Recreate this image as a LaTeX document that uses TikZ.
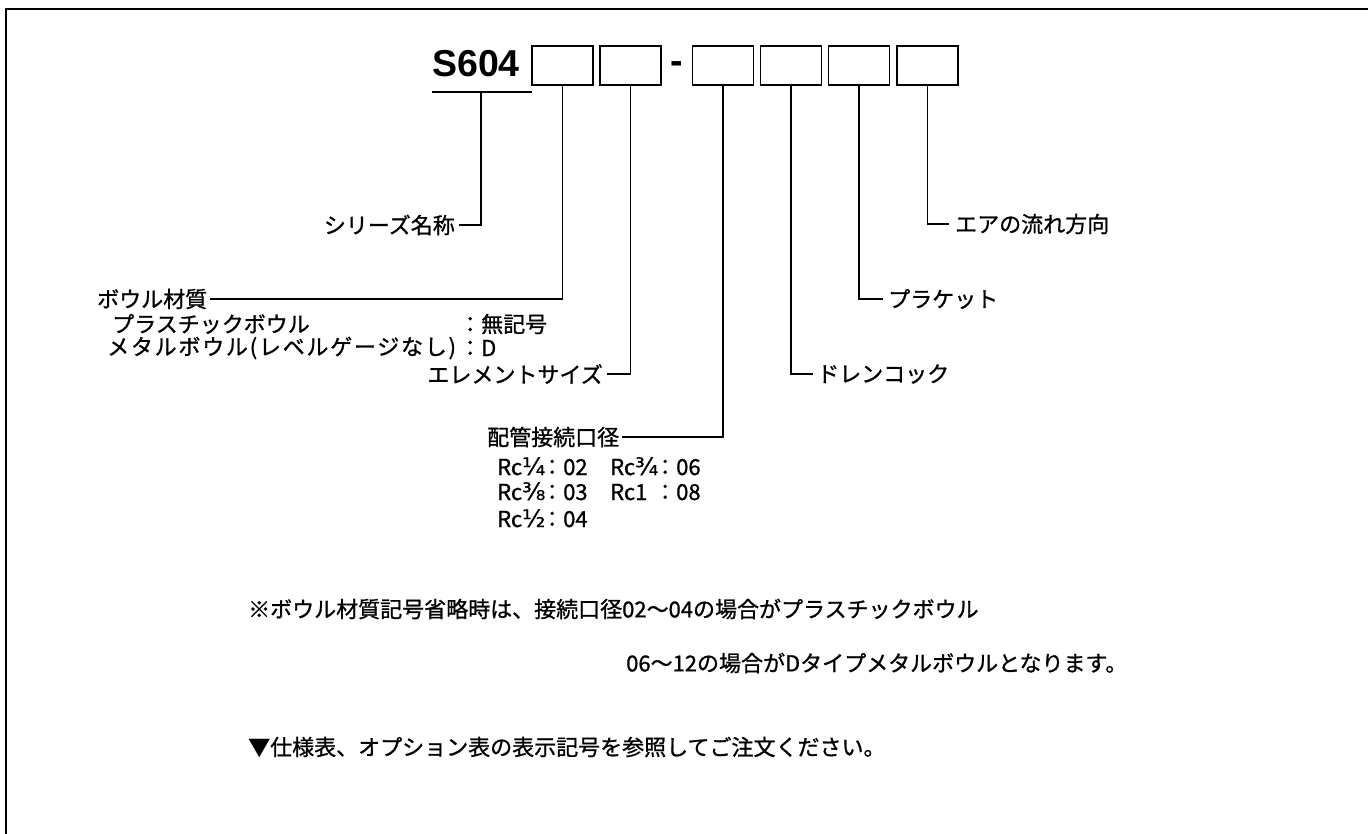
\documentclass[tikz,border=0pt]{standalone}
\usepackage{fontspec}
\setmainfont{Noto Sans CJK JP}
\newfontfamily\jpfont{Noto Sans CJK JP}[FakeBold=1]
\newfontfamily\jpwide{Noto Sans CJK JP}[FakeBold=1,LetterSpace=8]
\newfontfamily\latbold{Liberation Sans}[BoldFont={Liberation Sans Bold}]
\newfontfamily\fracfont{DejaVu Sans}[FakeBold=0.6]
\tikzset{
  lbl/.style={inner sep=0pt, font=\jpfont\fontsize{22}{26}\selectfont},
  widelbl/.style={inner sep=0pt, font=\jpwide\fontsize{22}{26}\selectfont},
  codebox/.style={draw, line width=1.2pt, minimum width=61pt, minimum height=39pt, inner sep=0pt},
  conn/.style={line width=1.4pt},
  framel/.style={line width=1.8pt}
}
\newcommand{\fr}[1]{{\fracfont\fontsize{24}{26}\selectfont #1}}
\begin{document}
\begin{tikzpicture}[x=1pt,y=-1pt]
\useasboundingbox (0,0) rectangle (1368,834);
% frame
\coordinate (fA) at (1368,9);
\coordinate (fB) at (6,9);
\coordinate (fC) at (6,834);
\draw[framel] (fA) -- (fB) -- (fC);
% code
\node[inner sep=0pt, anchor=base west, font=\latbold\bfseries\fontsize{37.5}{40}\selectfont] (s604) at (432,77) {S604};
\coordinate (ulA) at (432,92);
\coordinate (ulB) at (532,92);
\coordinate (u0) at (481,92);
\draw[conn] (ulA) -- (ulB);
\node[codebox] (b1) at (562.5,65.5) {};
\node[codebox] (b2) at (630.5,65.5) {};
\node[inner sep=0pt, anchor=base, font=\latbold\bfseries\fontsize{37.5}{40}\selectfont] (dash) at (676.5,74) {-};
\node[codebox] (b3) at (723,65.5) {};
\node[codebox] (b4) at (791,65.5) {};
\node[codebox] (b5) at (859,65.5) {};
\node[codebox] (b6) at (927.5,65.5) {};
% labels left
\node[lbl, anchor=east] (ser) at (455,225) {シリーズ名称};
\node[lbl, anchor=west] (bowl) at (97,299) {ボウル材質};
\node[lbl, anchor=west] (plas) at (112,324) {プラスチックボウル};
\node[lbl, anchor=west] (plasc) at (459,324) {：無記号};
\node[widelbl, anchor=west] (meta) at (107,348) {メタルボウル(レベルゲージなし)};
\node[lbl, anchor=west] (metac) at (459,348) {：D};
\node[lbl, anchor=east] (elem) at (603,374) {エレメントサイズ};
\node[lbl, anchor=west] (haik) at (487,437) {配管接続口径};
% Rc table
\node[lbl, anchor=base west] (r1a) at (497,475) {Rc\fr{¼}};
\node[lbl, anchor=base west] (r1b) at (541,475) {：02};
\node[lbl, anchor=base west] (r1c) at (610,475) {Rc\fr{¾}};
\node[lbl, anchor=base west] (r1d) at (654,475) {：06};
\node[lbl, anchor=base west] (r2a) at (497,500) {Rc\fr{⅜}};
\node[lbl, anchor=base west] (r2b) at (541,500) {：03};
\node[lbl, anchor=base west] (r2c) at (610,500) {Rc1};
\node[lbl, anchor=base west] (r2d) at (654,500) {：08};
\node[lbl, anchor=base west] (r3a) at (497,527) {Rc\fr{½}};
\node[lbl, anchor=base west] (r3b) at (541,527) {：04};
% labels right
\node[lbl, anchor=west] (dren) at (817,374) {ドレンコック};
\node[lbl, anchor=west] (brkt) at (888,299) {プラケット};
\node[lbl, anchor=west] (air) at (955,224) {エアの流れ方向};
% connectors
\draw[conn] (u0) |- ([xshift=4]ser.east);
\draw[conn] (b1.south) |- ([xshift=3]bowl.east);
\draw[conn] (b2.south) |- ([xshift=4]elem.east);
\draw[conn] (b3.south) |- ([xshift=3]haik.east);
\draw[conn] (b4.south) |- ([xshift=-4]dren.west);
\draw[conn] (b5.south) |- ([xshift=-5]brkt.west);
\draw[conn] (b6.south) |- ([xshift=-6]air.west);
% notes
\node[lbl, anchor=west] (n1) at (248,609) {※ボウル材質記号省略時は、接続口径02～04の場合がプラスチックボウル};
\node[lbl, anchor=west] (n2) at (626,663) {06～12の場合がDタイプメタルボウルとなります。};
\node[lbl, anchor=west] (n3) at (248,747) {▼仕様表、オプション表の表示記号を参照してご注文ください。};
\end{tikzpicture}
\end{document}
